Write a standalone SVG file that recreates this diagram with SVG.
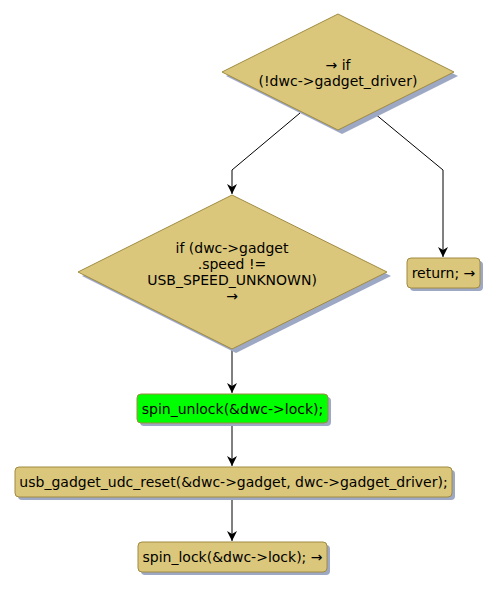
<svg xmlns="http://www.w3.org/2000/svg" width="498" height="590" viewBox="0 0 498 590">
<defs>
<style>
.n{fill:#DBC77B;stroke:#A08A42;stroke-width:1}
.g{fill:#00FF00;stroke:#A08A42;stroke-width:1}
.sh{fill:#9DA8C4}
.t{font-family:"DejaVu Sans",sans-serif;font-size:14px;fill:#000;text-anchor:middle}
.c{fill:none;stroke:#000;stroke-width:1}
</style>
<marker id="ah" viewBox="0 0 10 10" refX="10" refY="5" markerWidth="10" markerHeight="10" markerUnits="userSpaceOnUse" orient="auto">
<path d="M0,0 L10,5 L0,10 L3,5 Z" fill="#000"/>
</marker>
</defs>
<rect width="498" height="590" fill="#fff"/>
<g id="connectors">
<polyline class="c" points="300,113 232,170 232,194" marker-end="url(#ah)"/>
<polyline class="c" points="374,113 443,170 443,257" marker-end="url(#ah)"/>
<line class="c" x1="232" y1="349" x2="232" y2="393" marker-end="url(#ah)"/>
<line class="c" x1="232" y1="423" x2="232" y2="466" marker-end="url(#ah)"/>
<line class="c" x1="232" y1="497" x2="232" y2="541" marker-end="url(#ah)"/>
</g>
<g id="d1">
<polygon class="sh" points="342,18 458,76 342,134 226,76"/>
<polygon class="n" points="338,14 454,72 338,130 222,72"/>
<text class="t" x="338" y="70">→ if</text>
<text class="t" x="338" y="86">(!dwc-&gt;gadget_driver)</text>
</g>
<g id="d2">
<polygon class="sh" points="236,199 391,276 236,353 82,276"/>
<polygon class="n" points="232,195 387,272 232,349 78,272"/>
<text class="t" x="232" y="253">if (dwc-&gt;gadget</text>
<text class="t" x="232" y="269">.speed !=</text>
<text class="t" x="232" y="285">USB_SPEED_UNKNOWN)</text>
<text class="t" x="232" y="301">→</text>
</g>
<g id="ret">
<rect class="sh" x="410" y="261" width="73" height="30" rx="4"/>
<rect class="n" x="407" y="258" width="73" height="30" rx="4"/>
<text class="t" x="443.5" y="278">return; →</text>
</g>
<g id="unlock">
<rect class="sh" x="140" y="397" width="191" height="29" rx="4"/>
<rect class="g" x="137" y="394" width="191" height="29" rx="4"/>
<text class="t" x="232.5" y="414">spin_unlock(&amp;dwc-&gt;lock);</text>
</g>
<g id="reset">
<rect class="sh" x="18" y="470" width="437" height="30" rx="4"/>
<rect class="n" x="15" y="467" width="437" height="30" rx="4"/>
<text class="t" x="233.5" y="487">usb_gadget_udc_reset(&amp;dwc-&gt;gadget, dwc-&gt;gadget_driver);</text>
</g>
<g id="lock">
<rect class="sh" x="141" y="545" width="189" height="30" rx="4"/>
<rect class="n" x="138" y="542" width="189" height="30" rx="4"/>
<text class="t" x="232.5" y="562">spin_lock(&amp;dwc-&gt;lock); →</text>
</g>
</svg>
